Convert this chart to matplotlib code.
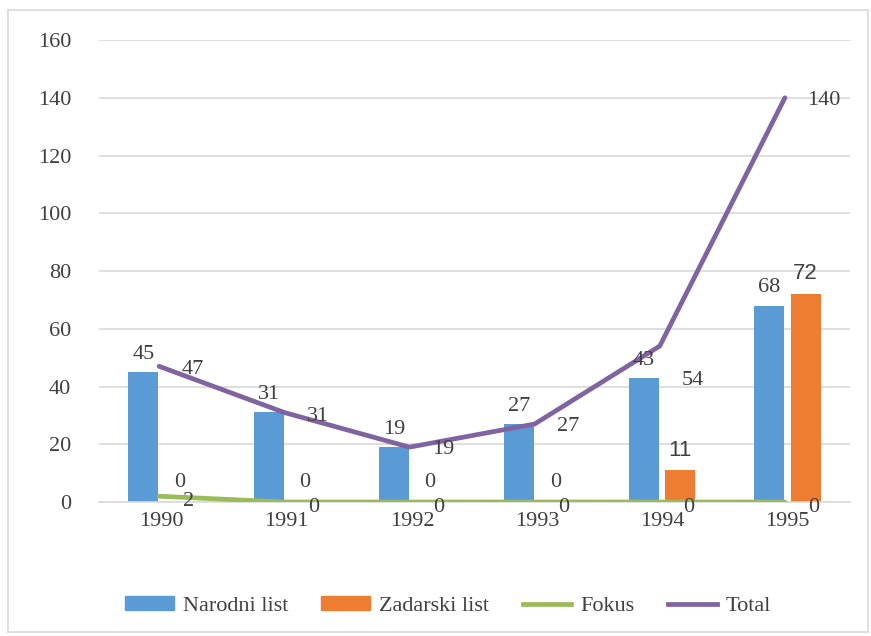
import matplotlib
matplotlib.use("Agg")
import matplotlib.pyplot as plt
from matplotlib.patches import Rectangle
from matplotlib.lines import Line2D
import numpy as np

years = ["1990", "1991", "1992", "1993", "1994", "1995"]
narodni = [45, 31, 19, 27, 43, 68]
zadarski = [0, 0, 0, 0, 11, 72]
fokus = [2, 0, 0, 0, 0, 0]
total = [47, 31, 19, 27, 54, 140]

c_blue = "#5B9BD5"
c_orange = "#ED7D31"
c_green = "#9BBB59"
c_purple = "#8064A2"
txt = "#404040"

plt.rcParams["font.family"] = ["Liberation Serif", "DejaVu Serif"]

fig = plt.figure(figsize=(8.71, 6.36), dpi=100)
fig.patches.append(Rectangle((8/871, 1-632/636), 860/871, 622/636, transform=fig.transFigure,
                             fill=False, edgecolor="#D9D9D9", linewidth=1.2))
ax = fig.add_axes([99/871, 1-502/636, (850-99)/871, (502-40)/636])

x = np.arange(len(years))
w = 0.24
off = 0.145
lx = x - 0.02
ax.bar(x - off, narodni, w, color=c_blue, zorder=2)
ax.bar(x + off, zadarski, w, color=c_orange, zorder=2)
ax.plot(lx, fokus, color=c_green, linewidth=3.4, solid_capstyle="round", zorder=3)
ax.plot(lx, total, color=c_purple, linewidth=3.4, solid_capstyle="round", zorder=3)

fs = 16
# label offsets (points) for the Total series; the 1994 label sits lower in the original
total_dy = [-2, -3, -2, -2, -25, -2]
for i in range(len(years)):
    ax.annotate(str(narodni[i]), (x[i] - off, narodni[i]), xytext=(0, 6), textcoords="offset points",
                ha="center", va="bottom", fontsize=fs, color=txt, zorder=5)
    fam = ["Liberation Sans"] if zadarski[i] else ["Liberation Serif"]
    ax.annotate(str(zadarski[i]), (x[i] + off, zadarski[i]), xytext=(0, 7), textcoords="offset points",
                ha="center", va="bottom", fontsize=fs, color=txt, family=fam, zorder=5)
    ax.annotate(str(total[i]), (lx[i], total[i]), xytext=(16, total_dy[i]), textcoords="offset points",
                ha="left", va="center", fontsize=fs, color=txt, zorder=5)
    ax.annotate(str(fokus[i]), (lx[i], fokus[i]), xytext=(21, -4), textcoords="offset points",
                ha="center", va="center", fontsize=fs, color=txt, zorder=5)

ax.set_ylim(0, 160)
ax.set_xlim(-0.5, len(years) - 0.5)
ax.set_yticks(range(0, 161, 20))
ax.set_xticks(x)
ax.set_xticklabels(years)
ax.tick_params(axis="both", length=0, labelsize=fs, colors=txt)
ax.tick_params(axis="y", pad=20)
ax.tick_params(axis="x", pad=7)
ax.grid(axis="y", color="#D9D9D9", linewidth=1.2, zorder=0)
ax.set_axisbelow(True)
for s in ["top", "right", "left"]:
    ax.spines[s].set_visible(False)
ax.spines["bottom"].set_color("#D9D9D9")
ax.spines["bottom"].set_linewidth(1.2)

handles = [Rectangle((0, 0), 1, 1, color=c_blue), Rectangle((0, 0), 1, 1, color=c_orange),
           Line2D([], [], color=c_green, linewidth=3.4), Line2D([], [], color=c_purple, linewidth=3.4)]
labels = ["Narodni list", "Zadarski list", "Fokus", "Total"]
fig.legend(handles, labels, loc="center", bbox_to_anchor=(448/871, 1-606/636), ncol=4, frameon=False,
           fontsize=fs, handlelength=2.2, handleheight=0.6, columnspacing=1.5, handletextpad=0.4,
           labelcolor=txt)

fig.savefig("out.png", dpi=100)
